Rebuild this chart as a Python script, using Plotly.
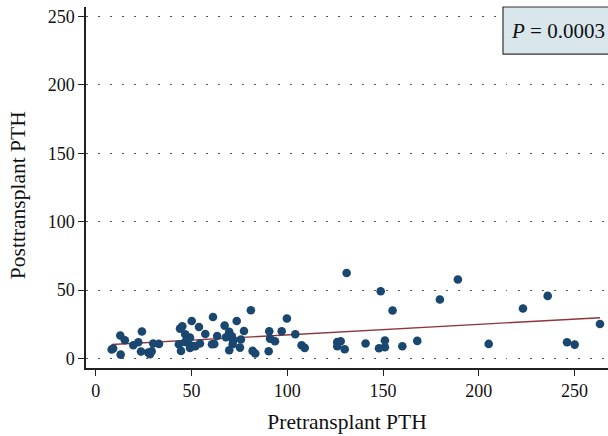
import numpy as np
import plotly.graph_objects as go

pre_pth = [
    # low range
    8.3, 9.1, 12.8, 13.0, 15.2, 19.6, 22.2, 23.6, 24.1, 27.4, 28.3, 29.2, 30.0, 33.0,
    # 43-55 cluster
    43.4, 44.0, 44.5, 45.2, 46.6, 46.7, 47.8, 49.2, 49.2, 49.2, 50.1, 51.3, 52.0, 53.9, 54.4,
    # 55-110
    57.2, 60.7, 61.2, 61.9, 63.4, 67.3, 68.0, 69.7, 69.7, 71.1, 71.5, 71.8, 73.6, 75.3, 75.8,
    77.4, 81.0, 81.9, 83.3, 90.3, 90.6, 91.0, 93.6, 97.1, 99.8, 104.2, 107.5, 109.1,
    # high range
    126.1, 126.1, 127.9, 130.0, 131.0, 140.9, 147.9, 148.8, 151.0, 151.0, 155.0, 160.1,
    167.9, 179.7, 189.1, 205.2, 223.1, 236.0, 246.1, 250.1, 263.3,
]
post_pth = [
    6.6, 7.3, 16.8, 2.9, 13.4, 9.7, 11.9, 5.1, 19.8, 4.4, 3.1, 5.3, 11.0, 10.7,
    10.5, 21.9, 5.6, 23.6, 12.1, 17.8, 14.9, 15.4, 9.7, 7.8, 27.5, 9.2, 9.0, 23.1, 11.0,
    18.0, 10.5, 30.4, 10.7, 16.5, 24.1, 15.6, 19.5, 6.1, 16.3, 10.5, 13.2, 27.5, 8.0, 13.9,
    20.2, 35.3, 5.6, 3.7, 5.3, 20.0, 14.6, 12.7, 20.0, 29.3, 17.8, 9.7, 7.8,
    12.1, 9.0, 12.7, 6.8, 62.6, 11.0, 7.5, 49.2, 13.2, 8.3, 35.1, 9.0,
    12.9, 43.2, 57.8, 10.7, 36.6, 45.8, 11.9, 10.2, 25.3,
]
x_ticks = [0, 50, 100, 150, 200, 250]
y_ticks = [0, 50, 100, 150, 200, 250]
x_title = "Pretransplant PTH"
y_title = "Posttransplant PTH"
p_label = "<i>P</i> = 0.0003"

x = np.array(pre_pth)
y = np.array(post_pth)
slope, intercept = np.polyfit(x, y, 1)
xl = np.array([x.min(), x.max()])
yl = intercept + slope * xl

SERIF = "Liberation Serif, Times New Roman, serif"

fig = go.Figure()
fig.add_trace(go.Scatter(
    x=xl, y=yl, mode="lines",
    line=dict(color="#90353b", width=1.4),
    hoverinfo="skip", showlegend=False,
))
fig.add_trace(go.Scatter(
    x=pre_pth, y=post_pth, mode="markers",
    marker=dict(color="#1a476f", size=8.6, line=dict(width=0)),
    showlegend=False,
))

fig.update_layout(
    width=608, height=436,
    margin=dict(l=86, r=0, t=7, b=68, autoexpand=False),
    paper_bgcolor="white", plot_bgcolor="white",
    font=dict(family=SERIF, size=18, color="#111"),
    xaxis=dict(
        range=[-5.1, 267.5], tickvals=x_ticks, ticks="outside", ticklen=6,
        tickwidth=1.2, tickcolor="#222", showgrid=False, zeroline=False,
        showline=True, linecolor="#222", linewidth=1.5,
        tickfont=dict(size=18, family=SERIF),
        title=dict(text=x_title, font=dict(size=21.5, family=SERIF), standoff=14),
    ),
    yaxis=dict(
        range=[-6.9, 257], tickvals=y_ticks, ticks="outside", ticklen=6,
        tickwidth=1.2, tickcolor="#222", showgrid=True, gridcolor="#555",
        gridwidth=1.2, griddash="1.5px,10.5px", zeroline=False,
        showline=True, linecolor="#222", linewidth=1.5,
        tickfont=dict(size=18, family=SERIF),
    ),
)

# y-axis title (positioned like the reference)
fig.add_annotation(
    xref="paper", yref="paper", x=(18 - 86) / 522, y=(367.7 - 195) / 360.7,
    xanchor="center", yanchor="middle", text=y_title, textangle=-90,
    showarrow=False, font=dict(size=21.5, family=SERIF, color="#111"),
)

# P-value box
fig.add_shape(
    type="rect", xref="paper", yref="paper",
    x0=(503 - 86) / 522, x1=1.05, y0=1 - 47 / 360.7, y1=1.0,
    fillcolor="#d9e6eb", line=dict(color="#333", width=1.2), layer="above",
)
fig.add_annotation(
    xref="paper", yref="paper", x=(509 - 86) / 522, y=1 - 23.5 / 360.7,
    xanchor="left", yanchor="middle", text=p_label, showarrow=False,
    font=dict(size=21, family=SERIF, color="#111"),
)

fig.write_html("out.html")
